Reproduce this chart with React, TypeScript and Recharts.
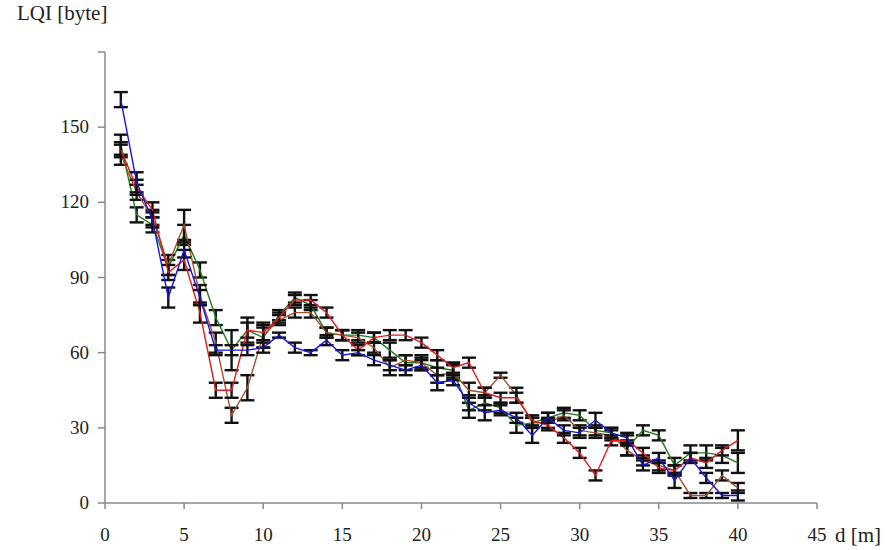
import React from 'react';
import { LineChart, Line, XAxis, YAxis, ErrorBar } from 'recharts';

const distances = [1,2,3,4,5,6,7,8,9,10,11,12,13,14,15,16,17,18,19,20,21,22,23,24,25,26,27,28,29,30,31,32,33,34,35,36,37,38,39,40];

const blueValues  = [161,128,113,82,101,82,61,61,61,62,67,62,60,65,59,60,57,55,53,55,48,49,40,36,37,34,27,34,29,28,33,28,26,15,18,9,18,10,3,3];
const blueErrors  = [3,4,3,4,3,3,2,2,2,2,1,2,1,2,2,1,2,2,2,2,3,2,3,3,2,2,3,2,2,2,3,2,2,2,2,3,2,2,1,2];

const redValues   = [141,126,117,92,97,76,45,45,69,68,74,81,81,76,67,61,66,67,67,64,59,54,56,44,42,42,33,31,26,20,11,25,25,20,14,13,18,16,21,25];
const redErrors   = [3,3,3,3,4,4,3,3,3,3,2,2,2,2,2,2,2,2,2,2,2,2,2,2,2,2,2,2,2,2,2,2,2,2,2,2,2,2,2,4];

const greenValues = [143,115,111,94,107,93,74,61,69,66,75,82,79,68,67,67,66,61,56,56,54,53,37,40,38,31,32,34,36,35,29,28,22,29,27,15,20,20,19,16];
const greenErrors = [4,3,3,3,4,3,3,8,5,4,2,2,2,2,2,2,2,3,3,3,3,3,3,3,2,3,2,2,2,2,2,2,3,2,2,3,3,3,3,4];

const brownValues = [139,124,114,95,111,83,64,35,46,67,73,76,76,68,67,66,62,54,57,56,51,52,45,44,51,43,32,32,35,29,28,27,21,17,15,13,3,3,11,6];
const brownErrors = [4,3,3,4,6,4,4,3,5,5,2,2,2,2,2,2,2,3,2,2,3,3,3,2,1,3,2,2,2,2,2,2,2,2,2,2,1,1,2,2];

const xTicks = [0,5,10,15,20,25,30,35,40,45];
const yTicks = [0,30,60,90,120,150,180];

const data = distances.map((d, i) => ({
  d,
  blue: blueValues[i], blueErr: blueErrors[i],
  red: redValues[i], redErr: redErrors[i],
  green: greenValues[i], greenErr: greenErrors[i],
  brown: brownValues[i], brownErr: brownErrors[i],
}));

const FONT = '"Liberation Serif", "DejaVu Serif", serif';
const AXIS_COLOR = '#8a8a8a';
const ERR_COLOR = '#111111';

const YTick = (props: any) => {
  const { x, y, payload } = props;
  if (payload.value === 180) return null;
  return (
    <text x={x} y={y} dx={-7} dy={6} textAnchor="end" fontFamily={FONT} fontSize={19} fill="#222">
      {payload.value}
    </text>
  );
};

const XTick = (props: any) => {
  const { x, y, payload } = props;
  return (
    <text x={x} y={y} dy={30} textAnchor="middle" fontFamily={FONT} fontSize={19} fill="#222">
      {payload.value}
    </text>
  );
};

const series = [
  { key: 'green', err: 'greenErr', color: '#1e7d1e' },
  { key: 'brown', err: 'brownErr', color: '#a0522d' },
  { key: 'red', err: 'redErr', color: '#e21b1b' },
  { key: 'blue', err: 'blueErr', color: '#1515e0' },
];

export default function App() {
  return (
    <div style={{ position: 'absolute', left: 0, top: 0, width: 894, height: 550, background: '#fff' }}>
      <LineChart
        width={894}
        height={550}
        data={data}
        margin={{ top: 52, right: 77, bottom: 17, left: 45 }}
      >
        <XAxis
          dataKey="d"
          type="number"
          domain={[0, 45]}
          ticks={xTicks}
          interval={0}
          height={30}
          stroke={AXIS_COLOR}
          strokeWidth={1.5}
          tickSize={6}
          tick={<XTick />}
        />
        <YAxis
          type="number"
          domain={[0, 180]}
          ticks={yTicks}
          interval={0}
          width={60}
          stroke={AXIS_COLOR}
          strokeWidth={1.5}
          tickSize={7}
          tick={<YTick />}
          allowDataOverflow
        />
        {series.map((s) => (
          <Line
            key={s.key}
            dataKey={s.key}
            type="linear"
            stroke={s.color}
            strokeWidth={1.4}
            dot={false}
            isAnimationActive={false}
          >
            <ErrorBar dataKey={s.err} direction="y" width={7} stroke={ERR_COLOR} strokeWidth={2.4} />
          </Line>
        ))}
      </LineChart>
      <div style={{ position: 'absolute', left: 17, top: 1, fontFamily: FONT, fontSize: 21, color: '#222', whiteSpace: 'nowrap' }}>
        LQI [byte]
      </div>
      <div style={{ position: 'absolute', left: 835, top: 523, fontFamily: FONT, fontSize: 21, color: '#222', whiteSpace: 'nowrap' }}>
        d [m]
      </div>
    </div>
  );
}
